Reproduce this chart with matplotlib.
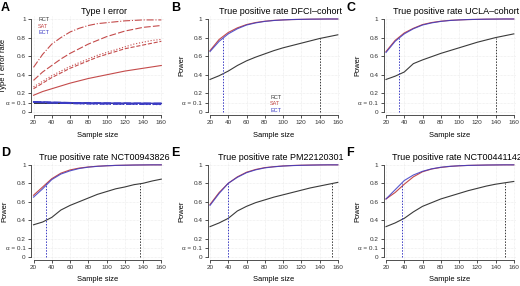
import matplotlib
matplotlib.use("Agg")
import matplotlib.pyplot as plt

plt.rcParams["font.family"] = ["Liberation Sans", "DejaVu Sans"]

n = [20, 30, 40, 50, 60, 70, 80, 90, 100, 110, 120, 130, 140, 150, 160]

# Panel A: type I error
sat_solid    = [0.18, 0.22, 0.25, 0.28, 0.31, 0.335, 0.36, 0.38, 0.40, 0.42, 0.44, 0.455, 0.47, 0.485, 0.50]
sat_dashed   = [0.25, 0.31, 0.37, 0.42, 0.47, 0.51, 0.55, 0.59, 0.62, 0.65, 0.68, 0.70, 0.72, 0.74, 0.76]
sat_dotted   = [0.27, 0.33, 0.39, 0.44, 0.49, 0.53, 0.57, 0.61, 0.64, 0.67, 0.70, 0.73, 0.75, 0.77, 0.78]
sat_longdash = [0.34, 0.43, 0.50, 0.57, 0.63, 0.68, 0.73, 0.77, 0.81, 0.84, 0.87, 0.89, 0.91, 0.92, 0.93]
sat_dotdash  = [0.48, 0.62, 0.73, 0.80, 0.86, 0.90, 0.93, 0.95, 0.96, 0.97, 0.98, 0.985, 0.99, 0.99, 0.99]
rct_err      = [0.10, 0.10, 0.10, 0.10, 0.10, 0.10, 0.10, 0.10, 0.10, 0.10, 0.10, 0.10, 0.10, 0.10, 0.10]
ect_err_a    = [0.11, 0.108, 0.105, 0.103, 0.101, 0.10, 0.099, 0.098, 0.097, 0.096, 0.096, 0.095, 0.095, 0.094, 0.094]
ect_err_b    = [0.105, 0.10, 0.097, 0.094, 0.092, 0.09, 0.089, 0.088, 0.087, 0.086, 0.085, 0.085, 0.084, 0.084, 0.083]
ect_err_c    = [0.11, 0.105, 0.10, 0.097, 0.094, 0.092, 0.09, 0.088, 0.087, 0.085, 0.084, 0.083, 0.082, 0.081, 0.08]

# Power panels
titles = ["True positive rate DFCI\u2013cohort", "True positive rate UCLA\u2013cohort",
          "True positive rate NCT00943826", "True positive rate PM22120301",
          "True positive rate NCT00441142"]
letters = ["B", "C", "D", "E", "F"]

sat_B = [0.66, 0.78, 0.855, 0.905, 0.94, 0.962, 0.976, 0.985, 0.99, 0.994, 0.996, 0.998, 0.999, 1.0, 1.0]
ect_B = [0.65, 0.76, 0.84, 0.895, 0.935, 0.958, 0.974, 0.984, 0.99, 0.994, 0.996, 0.998, 0.999, 1.0, 1.0]
rct_B = [0.35, 0.39, 0.44, 0.50, 0.55, 0.59, 0.625, 0.66, 0.69, 0.715, 0.74, 0.765, 0.79, 0.81, 0.83]

sat_C = [0.65, 0.77, 0.85, 0.90, 0.94, 0.962, 0.976, 0.985, 0.99, 0.994, 0.996, 0.998, 0.999, 1.0, 1.0]
ect_C = [0.64, 0.76, 0.84, 0.895, 0.935, 0.958, 0.974, 0.984, 0.99, 0.994, 0.996, 0.998, 0.999, 1.0, 1.0]
rct_C = [0.35, 0.385, 0.43, 0.52, 0.56, 0.595, 0.63, 0.66, 0.69, 0.72, 0.75, 0.775, 0.80, 0.82, 0.84]

sat_D = [0.67, 0.76, 0.85, 0.91, 0.945, 0.965, 0.977, 0.985, 0.99, 0.994, 0.996, 0.998, 0.999, 1.0, 1.0]
ect_D = [0.65, 0.74, 0.84, 0.90, 0.935, 0.96, 0.975, 0.984, 0.99, 0.994, 0.996, 0.998, 0.999, 1.0, 1.0]
rct_D = [0.35, 0.38, 0.43, 0.51, 0.56, 0.60, 0.64, 0.68, 0.71, 0.74, 0.76, 0.785, 0.80, 0.825, 0.845]

sat_E = [0.57, 0.70, 0.80, 0.87, 0.92, 0.95, 0.97, 0.98, 0.988, 0.993, 0.996, 0.998, 0.999, 1.0, 1.0]
ect_E = [0.56, 0.69, 0.80, 0.865, 0.915, 0.946, 0.967, 0.979, 0.987, 0.992, 0.995, 0.997, 0.999, 1.0, 1.0]
rct_E = [0.33, 0.37, 0.42, 0.50, 0.55, 0.59, 0.62, 0.65, 0.675, 0.70, 0.725, 0.75, 0.77, 0.79, 0.81]

sat_F = [0.63, 0.70, 0.79, 0.87, 0.925, 0.955, 0.972, 0.983, 0.99, 0.994, 0.996, 0.998, 0.999, 1.0, 1.0]
ect_F = [0.63, 0.73, 0.83, 0.89, 0.93, 0.957, 0.974, 0.984, 0.99, 0.994, 0.996, 0.998, 0.999, 1.0, 1.0]
rct_F = [0.33, 0.37, 0.42, 0.49, 0.55, 0.59, 0.63, 0.66, 0.69, 0.72, 0.745, 0.77, 0.79, 0.805, 0.82]

ect_cut = [34, 34, 34, 40, 37]
rct_cut = [140, 140, 137, 154, 150]
cut_level = 0.8

sat_all = [sat_B, sat_C, sat_D, sat_E, sat_F]
ect_all = [ect_B, ect_C, ect_D, ect_E, ect_F]
rct_all = [rct_B, rct_C, rct_D, rct_E, rct_F]

C_RCT = "#3a3a3a"
C_SAT = "#c44b4b"
C_ECT = "#3b3bc4"

yticks = [0, 0.1, 0.2, 0.4, 0.6, 0.8, 1]
yticklabels = ["0", "\u03b1 = 0.1", "0.2", "0.4", "0.6", "0.8", "1"]
xticks = [20, 40, 60, 80, 100, 120, 140, 160]

fig = plt.figure(figsize=(5.2, 2.86), dpi=100)
lefts = [31 / 520, 207.5 / 520, 383.5 / 520]
bottoms = [0.598, 0.0909]
heights = [0.346, 0.343]
W = 132.8 / 520
xlab_y = [-0.17, -0.163]
let_x = [0.002, 0.329, 0.666]
let_y = [0.962, 0.455]

def style(ax, ylabel, row, ylab_x):
    ax.set_xlim(17.26, 162.74)
    ax.set_ylim(-0.032, 1.032)
    for s in ["top", "right"]:
        ax.spines[s].set_visible(False)
    ax.spines["left"].set_bounds(0, 1)
    ax.spines["bottom"].set_bounds(20, 160)
    for s in ["left", "bottom"]:
        ax.spines[s].set_linewidth(0.6)
        ax.spines[s].set_color("#333333")
    ax.set_xticks(xticks)
    ax.set_yticks(yticks)
    ax.set_yticklabels(yticklabels)
    ax.tick_params(labelsize=4.6, length=2.2, width=0.6, pad=1.5, colors="#333333")
    ax.grid(True, color="#e8e8e8", linewidth=0.5, linestyle=(0, (1, 1)))
    ax.set_xlabel("Sample size", fontsize=5.4)
    ax.set_ylabel(ylabel, fontsize=5.4)
    ax.xaxis.set_label_coords(0.5, xlab_y[row])
    ax.yaxis.set_label_coords(ylab_x, 0.5)

# Panel A
axA = fig.add_axes([lefts[0], bottoms[0], W, heights[0]])
style(axA, "Type I error rate", 0, -0.18)
styles = ["-", "--", ":", (0, (6, 2)), "-."]
for ls, y in zip(styles, [sat_solid, sat_dashed, sat_dotted, sat_longdash, sat_dotdash]):
    axA.plot(n, y, color=C_SAT, linestyle=ls, linewidth=0.8)
for ls in styles:
    axA.plot(n, rct_err, color=C_RCT, linestyle=ls, linewidth=0.7)
for ls, y in zip(styles, [ect_err_a, ect_err_b, ect_err_c, ect_err_a, ect_err_b]):
    axA.plot(n, y, color=C_ECT, linestyle=ls, linewidth=0.9)
axA.set_title("Type I error", fontsize=6.5, pad=1.5, x=0.55)
fig.text(let_x[0], let_y[0], "A", fontsize=9, fontweight="bold")
for i, (lab, c) in enumerate([("RCT", C_RCT), ("SAT", C_SAT), ("ECT", C_ECT)]):
    axA.text(25, 0.99 - i * 0.07, lab, color=c, fontsize=4, va="center")

positions = [(1, 0), (2, 0), (0, 1), (1, 1), (2, 1)]
for k in range(5):
    col, row = positions[k]
    ax = fig.add_axes([lefts[col], bottoms[row], W, heights[row]])
    style(ax, "Power", row, -0.17)
    ax.plot(n, rct_all[k], color=C_RCT, linewidth=0.8)
    ax.plot(n, sat_all[k], color=C_SAT, linewidth=0.8)
    ax.plot(n, ect_all[k], color=C_ECT, linewidth=0.8, alpha=0.85)
    ax.plot([ect_cut[k], ect_cut[k]], [0, cut_level], color=C_ECT, linestyle=(0, (1.5, 1.5)), linewidth=0.7)
    ax.plot([rct_cut[k], rct_cut[k]], [0, cut_level], color=C_RCT, linestyle=(0, (1.5, 1.5)), linewidth=0.7)
    ax.set_title(titles[k], fontsize=6.5, pad=1.5, x=0.55)
    fig.text(let_x[col], let_y[row], letters[k], fontsize=9, fontweight="bold")
    if k == 0:
        for i, (lab, c) in enumerate([("RCT", C_RCT), ("SAT", C_SAT), ("ECT", C_ECT)]):
            ax.text(86, 0.16 - i * 0.07, lab, color=c, fontsize=4, va="center")

fig.savefig("out.png", dpi=100)
